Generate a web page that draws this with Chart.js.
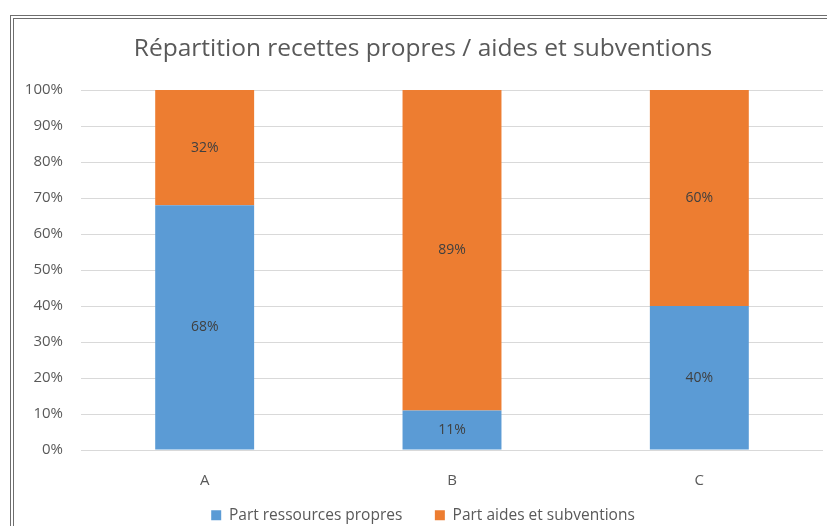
<!DOCTYPE html>
<html>
<head>
<meta charset="utf-8">
<script src="https://cdn.jsdelivr.net/npm/chart.js@4"></script>
<style>
  html, body { margin: 0; background: #fff; overflow: hidden; }
  #wrap { position: relative; width: 827px; height: 526px; overflow: hidden; }
  #frame { position: absolute; left: 10px; top: 15px; width: 830px; height: 530px;
           border-top: 4px double #6e6e6e; border-left: 4px double #6e6e6e; box-sizing: border-box; pointer-events: none; }
  canvas { position: absolute; left: 0; top: 0; }
</style>
</head>
<body>
<div id="wrap">
  <canvas id="chart" width="827" height="533"></canvas>
  <div id="frame"></div>
</div>
<script>
const categories = ['A', 'B', 'C'];
const ressourcesPropres = [68, 11, 40];
const aidesSubventions = [32, 89, 60];
const yTicks = [0, 10, 20, 30, 40, 50, 60, 70, 80, 90, 100];

const fontFamily = '"Open Sans", sans-serif';

// labels au centre de chaque segment
const segmentLabels = {
    id: 'segmentLabels',
    afterDatasetsDraw(chart) {
        const ctx = chart.ctx;
        ctx.save();
        ctx.font = '14px ' + fontFamily;
        ctx.fillStyle = '#404040';
        ctx.textAlign = 'center';
        ctx.textBaseline = 'middle';
        chart.data.datasets.forEach((ds, i) => {
            chart.getDatasetMeta(i).data.forEach((bar, j) => {
                const p = bar.getCenterPoint();
                ctx.fillText(ds.data[j] + '%', p.x, p.y);
            });
        });
        ctx.restore();
    }
};

const ctx = document.getElementById('chart').getContext('2d');
new Chart(ctx, {
    type: 'bar',
    data: {
        labels: categories,
        datasets: [
            {
                label: 'Part ressources propres',
                data: ressourcesPropres,
                backgroundColor: '#5B9BD5',
                categoryPercentage: 1,
                barPercentage: 0.4,
            },
            {
                label: 'Part aides et subventions',
                data: aidesSubventions,
                backgroundColor: '#ED7D31',
                categoryPercentage: 1,
                barPercentage: 0.4,
            }
        ]
    },
    options: {
        responsive: false,
        animation: false,
        layout: { padding: { left: 23, right: 4, top: 10, bottom: 0 } },
        plugins: {
            title: {
                display: true,
                text: 'Répartition recettes propres / aides et subventions',
                color: '#595959',
                font: { family: fontFamily, size: 24.5, weight: 'normal' },
                padding: { top: 24.5, bottom: 26.1 }
            },
            legend: {
                position: 'bottom',
                labels: {
                    color: '#595959',
                    font: { family: fontFamily, size: 15.5 },
                    boxWidth: 10,
                    boxHeight: 10,
                    padding: 32.5
                }
            },
            tooltip: { enabled: false }
        },
        scales: {
            x: {
                stacked: true,
                afterFit: scale => {
                    scale.height = 25;
                    // les labels débordent dans la marge de la légende
                    scale._computeLabelArea = () => null;
                },
                grid: { display: false },
                border: { display: false },
                ticks: { color: '#595959', font: { family: fontFamily, size: 15 }, padding: 14 }
            },
            y: {
                stacked: true,
                min: 0,
                max: 100,
                afterBuildTicks: scale => { scale.ticks = yTicks.map(v => ({ value: v })); },
                afterFit: scale => { scale.width = 58; },
                grid: { color: '#d9d9d9', drawTicks: false },
                border: { display: false },
                ticks: {
                    color: '#595959',
                    font: { family: fontFamily, size: 15 },
                    padding: 18,
                    callback: v => v + '%'
                }
            }
        }
    },
    plugins: [segmentLabels]
});
</script>
</body>
</html>
